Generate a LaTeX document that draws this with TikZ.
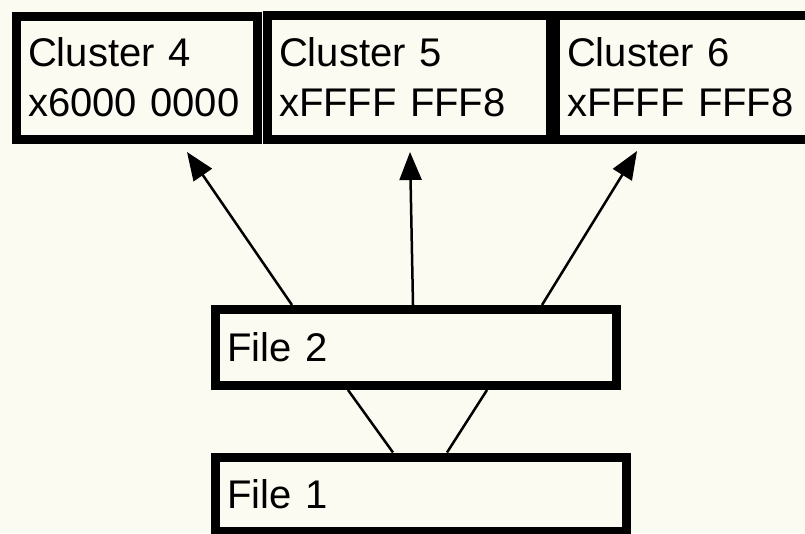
\documentclass[tikz,border=0pt]{standalone}
\usepackage{fontspec}
\setmainfont{Liberation Sans}
\usetikzlibrary{arrows.meta, positioning}
\definecolor{paper}{HTML}{FCFBF1}
\tikzset{
  membox/.style={draw, line width=9pt, fill=paper, align=left, inner xsep=12pt,
    inner ysep=0pt, font=\fontsize{40}{50}\selectfont},
  link/.style={line width=2.5pt},
  ptr/.style={link, -{Triangle[length=28pt, width=22pt]}}
}

\begin{document}
\begin{tikzpicture}[x=1pt, y=-1pt]
    \clip (0,0) rectangle (805,533);
    \fill[paper] (0,0) rectangle (805,533);
    % cluster row
    \node[membox, minimum width=241pt, minimum height=123pt, text width=217pt] (c4) at (136.5,77.5) {Cluster 4\\x6000 0000};
    \node[membox, minimum width=283pt, minimum height=124pt, text width=259pt] (c5) at (408.5,77) {Cluster 5\\xFFFF FFF8};
    \node[membox, minimum width=260pt, minimum height=124pt, text width=236pt] (c6) at (685,77) {Cluster 6\\xFFFF FFF8};
    % files
    \node[membox, minimum width=401pt, minimum height=76pt, text width=377pt] (f2) at (416,347.5) {File 2};
    \node[membox, minimum width=411pt, minimum height=74pt, text width=387pt] (f1) at (421,494) {File 1};
    \coordinate (t4) at (187,152);
    \coordinate (t5) at (410,152);
    \coordinate (t6) at (637,151);
    \foreach \dx/\tip in {81/t4, 202/t5, 331/t6} {
      \draw[ptr] ([xshift=\dx pt]f2.north west) -- (\tip);
    }
    \draw[link] ([xshift=182pt]f1.north west) -- ([xshift=137pt]f2.south west);
    \draw[link] ([xshift=236pt]f1.north west) -- ([xshift=276pt]f2.south west);
  \end{tikzpicture}
\end{document}
